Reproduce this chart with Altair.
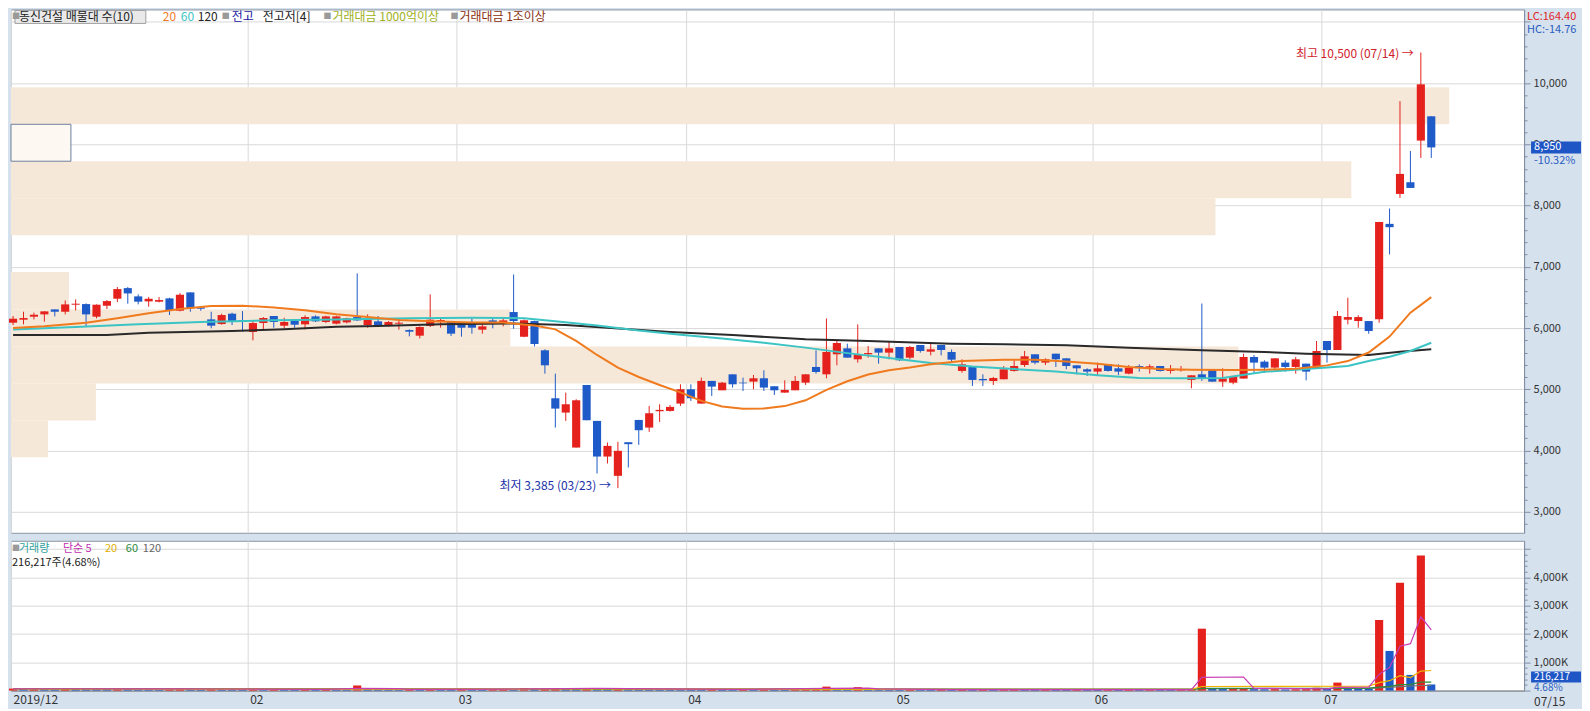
import altair as alt
import pandas as pd

FONT = "Noto Sans CJK KR"
RED = "#e4211c"
BLUE = "#1f5bc8"
BEIGE = "#f6e8d8"
AXIS_BG = "#d6e1ee"
GRID = "#d9d9d9"
ORANGE = "#f07a1e"
TEAL = "#3cc4c4"
BLACK = "#2a2a2a"

W, H1, H2 = 1515, 524, 150
X_DOM = [-0.2, 144.9]
P_DOM = [2656, 11203]
V_DOM = [0, 5300]

# ---- daily candles (trading-day index 0 = 2019/12/26 ... 136 = 2020/07/15)
opens = [6087, 6136, 6185, 6223, 6304, 6266, 6381, 6391, 6185, 6364, 6479, 6652, 6517, 6435, 6430, 6484, 6283, 6582, 6337, 6141,
         6065, 6234, 6125, 5935, 6081, 6196, 6038, 6130, 6060, 6190, 6098, 6071, 6092, 6179, 6049, 6109, 6038, 6071, 5967, 5875,
         6033, 6114, 6098, 6087, 6092, 5973, 6125, 6071, 6261, 5858, 6114, 5636, 4853, 4619, 4048, 5070, 4483, 3901, 3586, 4135,
         4499, 4374, 4641, 4646, 4766, 5000, 4766, 5136, 4983, 5244, 5108, 5125, 5179, 5049, 4945, 4983, 5108, 5364, 5244, 5571,
         5668, 5489, 5571, 5668, 5598, 5690, 5516, 5723, 5614, 5723, 5609, 5299, 5380, 5168, 5135, 5163, 5299, 5396, 5571, 5435,
         5581, 5505, 5391, 5326, 5288, 5407, 5342, 5255, 5380, 5353, 5380, 5299, 5310, 5152, 5244, 5326, 5124, 5108, 5174, 5527,
         5451, 5353, 5435, 5364, 5418, 5342, 5788, 5641, 6136, 6114, 6114, 6142, 7701, 8190, 8381, 9061, 9458]
highs = [6196, 6266, 6250, 6277, 6304, 6451, 6468, 6402, 6386, 6457, 6669, 6669, 6549, 6506, 6506, 6495, 6571, 6582, 6348, 6266,
         6234, 6250, 6277, 6125, 6179, 6196, 6168, 6130, 6207, 6207, 6201, 6201, 6168, 6892, 6223, 6196, 6114, 6136, 5978, 6027,
         6549, 6158, 6098, 6098, 6158, 6098, 6168, 6168, 6875, 6140, 6120, 5652, 5255, 4945, 4836, 5070, 4483, 4130, 4141, 4135,
         4499, 4728, 4755, 4744, 5081, 5081, 5190, 5136, 5119, 5244, 5190, 5233, 5310, 5049, 5146, 5217, 5244, 5636, 6155, 5799,
         5744, 6060, 5706, 5668, 5788, 5690, 5706, 5723, 5761, 5723, 5650, 5489, 5380, 5244, 5201, 5380, 5489, 5625, 5571, 5505,
         5581, 5505, 5391, 5342, 5435, 5407, 5407, 5396, 5407, 5407, 5380, 5396, 5380, 5228, 6400, 5326, 5342, 5217, 5581, 5559,
         5473, 5505, 5473, 5527, 5418, 5788, 5788, 6277, 6495, 6207, 6114, 7734, 7952, 9705, 8892, 10500, 9458]
lows = [6049, 6060, 6141, 6103, 6190, 6223, 6288, 6022, 6158, 6310, 6424, 6397, 6386, 6348, 6419, 6212, 6272, 6266, 6283, 5995,
        6054, 6049, 5940, 5799, 5978, 6005, 5989, 6005, 5978, 6098, 6081, 6060, 6076, 6114, 6005, 6016, 6022, 5973, 5864, 5831,
        6016, 6005, 5869, 5859, 5908, 5908, 5995, 6027, 5989, 5850, 5700, 5255, 4374, 4483, 4048, 4494, 3624, 3787, 3385, 3722,
        4092, 4304, 4467, 4635, 4728, 4809, 4766, 4891, 4983, 5027, 4972, 5000, 4972, 4907, 4945, 4983, 5070, 5255, 5179, 5391,
        5516, 5435, 5516, 5418, 5489, 5462, 5489, 5598, 5554, 5554, 5450, 5271, 5054, 5054, 5070, 5163, 5288, 5364, 5407, 5396,
        5364, 5326, 5244, 5217, 5217, 5288, 5233, 5244, 5288, 5255, 5288, 5255, 5288, 5016, 5136, 5124, 5038, 5081, 5174, 5271,
        5271, 5299, 5288, 5255, 5146, 5342, 5435, 5641, 6060, 6005, 5907, 6086, 7202, 8125, 8288, 8778, 8778]
closes = [6152, 6163, 6217, 6272, 6266, 6386, 6397, 6223, 6381, 6440, 6636, 6565, 6430, 6478, 6457, 6288, 6544, 6321, 6315, 6038,
          6212, 6114, 6114, 6081, 6163, 6098, 6098, 6054, 6179, 6109, 6190, 6190, 6158, 6125, 6141, 6033, 6098, 6087, 5940, 6016,
          6136, 6130, 5908, 6005, 6005, 6027, 6081, 6125, 6114, 6126, 5739, 5391, 4684, 4755, 4820, 4494, 3901, 4075, 3994, 4103,
          4331, 4608, 4663, 4712, 5000, 4853, 5136, 5043, 5108, 5081, 5097, 5179, 5027, 4983, 4989, 5136, 5244, 5282, 5609, 5755,
          5516, 5571, 5592, 5598, 5668, 5473, 5690, 5625, 5652, 5641, 5483, 5407, 5152, 5146, 5184, 5326, 5380, 5538, 5435, 5489,
          5489, 5380, 5342, 5288, 5342, 5299, 5288, 5353, 5364, 5375, 5299, 5326, 5326, 5228, 5174, 5124, 5174, 5217, 5527, 5435,
          5353, 5505, 5364, 5489, 5288, 5625, 5641, 6196, 6179, 6179, 5951, 7730, 7647, 8517, 8288, 9980, 8950]
# volume, thousand shares
volumes = [70, 55, 60, 50, 45, 90, 75, 60, 55, 50, 60, 55, 45, 40, 35, 50, 85, 70, 40, 55, 45, 40, 35,
           40, 35, 45, 40, 35, 40, 35, 45, 40, 30, 180, 60, 45, 40, 35, 40, 30, 45, 40, 35,
           45, 40, 35, 40, 45, 40, 90, 60, 70, 80, 75, 70, 90, 80, 70, 85, 70, 60, 55, 50, 45, 40,
           40, 35, 45, 40, 35, 40, 35, 45, 40, 35, 40, 45, 60, 140, 70, 60, 120, 50, 45, 40,
           35, 40, 35, 30, 35, 30, 35, 30, 35, 30, 35, 40, 35, 30, 35, 30, 30, 35, 30,
           30, 35, 30, 35, 30, 35, 30, 30, 35, 40, 2190, 80, 60, 70, 90, 50, 45, 50, 40, 45, 50, 100,
           60, 283, 90, 80, 70, 2498, 1403, 3816, 555, 4780, 216]

# price moving averages (index, value)
ma20_idx = [0, 3, 7, 10, 13, 16, 19, 22, 25, 28, 31, 34, 37, 40, 44, 47, 50, 52, 54, 56, 58, 60, 62, 64, 66, 68, 70, 72,
            74, 76, 78, 80, 82, 84, 86, 88, 91, 95, 98, 101, 104, 107, 110, 113, 117, 120, 123, 126, 128, 130, 132, 134, 136]
ma20_val = [6000, 6030, 6087, 6160, 6240, 6310, 6360, 6365, 6335, 6290, 6225, 6180, 6130, 6110, 6090, 6090, 6040, 5978,
            5790, 5560, 5353, 5200, 5070, 4950, 4810, 4720, 4680, 4685, 4725, 4820, 4990, 5130, 5240, 5310, 5355, 5410,
            5460, 5480, 5480, 5455, 5418, 5364, 5330, 5320, 5315, 5320, 5335, 5390, 5460, 5600, 5860, 6250, 6505]
ma60_idx = [0, 6, 12, 18, 25, 31, 38, 44, 49, 52, 56, 60, 64, 68, 72, 76, 80, 84, 88, 92, 96, 100, 104, 108, 112, 116,
            120, 124, 128, 130, 132, 134, 136]
ma60_val = [5975, 6016, 6060, 6100, 6125, 6141, 6158, 6168, 6160, 6110, 6040, 5960, 5890, 5830, 5760, 5680, 5590, 5510,
            5430, 5370, 5330, 5290, 5230, 5185, 5180, 5185, 5285, 5330, 5380, 5461, 5530, 5625, 5760]
ma120_idx = [0, 9, 13, 21, 26, 31, 35, 41, 48, 53, 57, 63, 69, 76, 82, 90, 95, 101, 107, 114, 120, 124, 130, 133, 136]
ma120_val = [5886, 5886, 5924, 5951, 5978, 6022, 6033, 6060, 6075, 6049, 6005, 5935, 5886, 5815, 5788, 5744, 5734, 5717,
             5679, 5636, 5608, 5580, 5559, 5614, 5652]

# volume moving averages (index, thousand shares)
vma5_idx = [0, 5, 10, 16, 20, 30, 33, 37, 38, 48, 50, 56, 62, 70, 78, 82, 83, 90, 113, 114, 118, 119, 126, 127, 130,
            131, 132, 133, 134, 135, 136]
vma5_val = [60, 65, 62, 60, 55, 45, 75, 72, 45, 55, 60, 78, 60, 40, 75, 85, 60, 33, 34, 470, 480, 80, 62, 110, 120,
            570, 820, 1570, 1660, 2610, 2150]
vma20_idx = [0, 30, 50, 70, 90, 113, 114, 130, 131, 132, 133, 134, 135, 136]
vma20_val = [55, 48, 55, 50, 45, 40, 145, 160, 280, 350, 530, 460, 690, 710]
vma60_idx = [0, 50, 100, 113, 114, 130, 131, 132, 133, 134, 135, 136]
vma60_val = [60, 55, 45, 45, 80, 85, 125, 150, 210, 220, 300, 300]
vma120_idx = [0, 60, 113, 114, 130, 131, 133, 135, 136]
vma120_val = [60, 55, 50, 68, 75, 95, 140, 180, 185]

# price-volume profile (10 bins)
profile_lo = [3888, 4491, 5095, 5698, 6302, 6913, 7517, 8120, 8724, 9327]
profile_hi = [4491, 5095, 5698, 6302, 6913, 7517, 8120, 8724, 9327, 9931]
profile_vol = [370, 850, 12290, 5000, 580, 0, 12060, 13420, 600, 14400]
profile_current = [False, False, False, False, False, False, False, False, True, False]
PV_MAX = 15150

month_pos = [-0.2, 22.5, 42.5, 64.5, 84.5, 103.5, 125.5]
month_lab = ["2019/12", "02", "03", "04", "05", "06", "07"]

# ---------------------------------------------------------------------------
df = pd.DataFrame({"i": list(range(len(opens))), "open": opens, "high": highs, "low": lows,
                   "close": closes, "vol": volumes})
df["dir"] = ["up" if c >= o else "down" for o, c in zip(opens, closes)]
df["vdir"] = ["up" if k == 0 or v > volumes[k - 1] else "down" for k, v in enumerate(volumes)]
df["x1"] = df["i"] - 0.39
df["x2"] = df["i"] + 0.39

prof = pd.DataFrame({"lo": profile_lo, "hi": profile_hi, "pv": profile_vol, "cur": profile_current})
prof["x0"] = 0
prof = prof[prof["pv"] > 0]

xs = alt.Scale(domain=X_DOM, nice=False, zero=False)
ys = alt.Scale(domain=P_DOM, nice=False, zero=False)
vs = alt.Scale(domain=V_DOM, nice=False, zero=False)
cs = alt.Scale(domain=["up", "down"], range=[RED, BLUE])

def ypx(p):
    return H1 * (P_DOM[1] - p) / (P_DOM[1] - P_DOM[0])

def vpx(v):
    return H2 * (V_DOM[1] - v) / (V_DOM[1] - V_DOM[0])

one = pd.DataFrame({"k": [0]})

def label(text, x, y, color, size=12, align="left", baseline="middle", weight="normal"):
    return alt.Chart(pd.DataFrame({"t": [text]})).mark_text(
        align=align, baseline=baseline, fontSize=size, color=color, font=FONT, fontWeight=weight
    ).encode(x=alt.value(x), y=alt.value(y), text="t:N")

def box(x0, x1, y0, y1, fill, stroke=None):
    kw = {"fill": fill}
    if stroke:
        kw["stroke"] = stroke
        kw["strokeWidth"] = 1
    return alt.Chart(one).mark_rect(**kw).encode(
        x=alt.value(x0), x2=alt.value(x1), y=alt.value(y0), y2=alt.value(y1))

xlab_expr = "''"
for pos, lab in zip(month_pos[::-1], month_lab[::-1]):
    xlab_expr = f"datum.value == {pos} ? '{lab}' : ({xlab_expr})"

major_test = "datum.value % 1000 === 0"
y_axis = alt.Axis(
    orient="right", values=list(range(2800, 11001, 200)),
    labelExpr="datum.value % 1000 === 0 && datum.value < 11000 ? format(datum.value, ',') : ''",
    tickSize={"condition": {"test": major_test, "value": 6}, "value": 3},
    gridOpacity={"condition": {"test": major_test, "value": 1}, "value": 0},
    grid=True, gridColor=GRID, domainColor="#7f8fa6", tickColor="#7f8fa6",
    labelColor="#333333", labelFontSize=11, labelPadding=3, labelOverlap=False, labelFont=FONT, title=None)

v_axis = alt.Axis(
    orient="right", values=list(range(0, 5001, 200)),
    labelExpr="datum.value % 1000 === 0 && datum.value > 0 && datum.value < 5000 ? format(datum.value, ',') + 'K' : ''",
    tickSize={"condition": {"test": major_test, "value": 6}, "value": 3},
    gridOpacity={"condition": {"test": major_test + " && datum.value > 0", "value": 1}, "value": 0},
    grid=True, gridColor=GRID, domainColor="#7f8fa6", tickColor="#7f8fa6",
    labelColor="#333333", labelFontSize=11, labelPadding=3, labelOverlap=False, labelFont=FONT, title=None)

x_grid_axis = alt.Axis(orient="bottom", values=month_pos, grid=True, gridColor=GRID, labels=False,
                       ticks=False, domain=False, title=None)
x_date_axis = alt.Axis(orient="bottom", values=month_pos, grid=True, gridColor=GRID, ticks=False, domain=True,
                       domainColor="#8a8a8a", labelExpr=xlab_expr, labelAlign="left", labelPadding=4,
                       labelOffset=2, labelFontSize=12, labelColor="#333333", labelOverlap=False,
                       labelFlush=False, labelFont=FONT, title=None)

# ---------------- price panel
pscale_x = alt.Scale(domain=[0, PV_MAX], nice=False, zero=False)
prof_normal = alt.Chart(prof).transform_filter("!datum.cur").mark_rect(color=BEIGE).encode(
    x=alt.X("x0:Q", scale=pscale_x, axis=None), x2="pv:Q",
    y=alt.Y("lo:Q", scale=ys, axis=y_axis), y2="hi:Q")
prof_cur = alt.Chart(prof).transform_filter("datum.cur").mark_rect(
    fill="#fdf8f2", stroke="#6d7f9e", strokeWidth=1).encode(
    x=alt.X("x0:Q", scale=pscale_x, axis=None), x2="pv:Q",
    y=alt.Y("lo:Q", scale=ys, axis=y_axis), y2="hi:Q")
profile_group = alt.layer(prof_normal, prof_cur)

wicks = alt.Chart(df).mark_rule(strokeWidth=1).encode(
    x=alt.X("i:Q", scale=xs, axis=x_grid_axis),
    y=alt.Y("low:Q", scale=ys, axis=y_axis), y2="high:Q",
    color=alt.Color("dir:N", scale=cs, legend=None))
bodies = alt.Chart(df).mark_rect().encode(
    x=alt.X("x1:Q", scale=xs, axis=x_grid_axis), x2="x2:Q",
    y=alt.Y("open:Q", scale=ys, axis=y_axis), y2="close:Q",
    color=alt.Color("dir:N", scale=cs, legend=None))

def line(idx, val, color, yscale, yaxis, xaxis, width=2):
    d = pd.DataFrame({"i": idx, "v": val})
    return alt.Chart(d).mark_line(color=color, strokeWidth=width).encode(
        x=alt.X("i:Q", scale=xs, axis=xaxis), y=alt.Y("v:Q", scale=yscale, axis=yaxis))

ma_lines = [line(ma120_idx, ma120_val, BLACK, ys, y_axis, x_grid_axis),
            line(ma60_idx, ma60_val, TEAL, ys, y_axis, x_grid_axis),
            line(ma20_idx, ma20_val, ORANGE, ys, y_axis, x_grid_axis)]

hi_i = highs.index(max(highs))
lo_i = lows.index(min(lows))
ann = pd.DataFrame({"i": [hi_i, lo_i], "p": [max(highs), min(lows)],
                    "t": [f"최고 {max(highs):,} (07/14) →", f"최저 {min(lows):,} (03/23) →"],
                    "c": ["hi", "lo"]})
ann_hi = alt.Chart(ann).transform_filter("datum.c == 'hi'").mark_text(
    align="right", baseline="middle", dx=-7, dy=2, fontSize=12, font=FONT, color="#d0202a").encode(
    x=alt.X("i:Q", scale=xs, axis=x_grid_axis), y=alt.Y("p:Q", scale=ys, axis=y_axis), text="t:N")
ann_lo = alt.Chart(ann).transform_filter("datum.c == 'lo'").mark_text(
    align="right", baseline="middle", dx=-7, dy=-2, fontSize=12, font=FONT, color="#2030a8").encode(
    x=alt.X("i:Q", scale=xs, axis=x_grid_axis), y=alt.Y("p:Q", scale=ys, axis=y_axis), text="t:N")

last = closes[-1]
chg = (closes[-1] / closes[-2] - 1) * 100
yl = ypx(last)
price_extras = [
    box(4, 135, 1, 14, "#e9e9e9", "#a0a0a0"),
    label("■", 1, 7.5, "#9a9a9a", size=8),
    label("동신건설 매물대 수(10)", 8, 7.5, "#222222"),
    label("20", 152, 7.5, ORANGE),
    label("60", 170, 7.5, TEAL),
    label("120", 187, 7.5, "#222222"),
    label("■", 211, 7.5, "#9a9a9a", size=8),
    label("전고", 221, 7.5, "#1a1aa0"),
    label("전고저[4]", 252, 7.5, "#222222"),
    label("■", 313, 7.5, "#9a9a9a", size=8),
    label("거래대금 1000억이상", 322, 7.5, "#a0b020"),
    label("■", 440, 7.5, "#9a9a9a", size=8),
    label("거래대금 1조이상", 449, 7.5, "#8a3010"),
    label("LC:164.40", W + 3, 8, "#e02828", size=11),
    label("HC:-14.76", W + 3, 21, "#2a5fc0", size=11),
    box(W + 7, W + 57, yl - 6, yl + 6, "#1f56c6"),
    label(f"{last:,}", W + 10, yl, "white", size=11),
    label(f"{chg:.2f}%", W + 10, yl + 14, "#2a5fc0", size=11),
]

main_group = alt.layer(wicks, bodies, *ma_lines, ann_hi, ann_lo, *price_extras)
price = alt.layer(profile_group, main_group).resolve_scale(x="independent").properties(width=W, height=H1)

# ---------------- volume panel
vbars = alt.Chart(df).mark_rect().encode(
    x=alt.X("x1:Q", scale=xs, axis=x_date_axis), x2="x2:Q",
    y=alt.Y("vol:Q", scale=vs, axis=v_axis), y2=alt.datum(0),
    color=alt.Color("vdir:N", scale=cs, legend=None))
vma_lines = [line(vma120_idx, vma120_val, "#707070", vs, v_axis, x_date_axis, 1.2),
             line(vma60_idx, vma60_val, "#2e8b3a", vs, v_axis, x_date_axis, 1.2),
             line(vma20_idx, vma20_val, "#f0b400", vs, v_axis, x_date_axis, 1.2),
             line(vma5_idx, vma5_val, "#c83cb4", vs, v_axis, x_date_axis, 1.2)]
lv = volumes[-1]
vl = vpx(lv)
vol_extras = [
    label("■", 1, 8, "#9a9a9a", size=8),
    label("거래량", 8, 8, "#2f9fa0", size=11),
    label("단순 5", 52, 8, "#c030b0", size=11),
    label("20", 94, 8, "#e0b000", size=11),
    label("60", 115, 8, "#2e8b3e", size=11),
    label("120", 132, 8, "#666666", size=11),
    label(f"{lv * 1000 + 217:,}주(4.68%)", 1, 22, "#222222", size=11),
    box(W + 7, W + 57, vl - 13, vl - 2, "#1f56c6"),
    label(f"{lv * 1000 + 217:,}", W + 10, vl - 7.5, "white", size=10),
    label("4.68%", W + 10, vl + 4, "#2a5fc0", size=10),
    label("07/15", W + 10, H2 + 11, "#333333", size=12),
]
volume = alt.layer(vbars, *vma_lines, *vol_extras).properties(width=W, height=H2)

chart = alt.vconcat(price, volume, spacing=6).properties(
    background=AXIS_BG, padding=0
).configure_view(stroke="#8c96a3", fill="white").configure_text(font=FONT)

chart.save("out.html", embed_options={"renderer": "svg", "actions": False})
